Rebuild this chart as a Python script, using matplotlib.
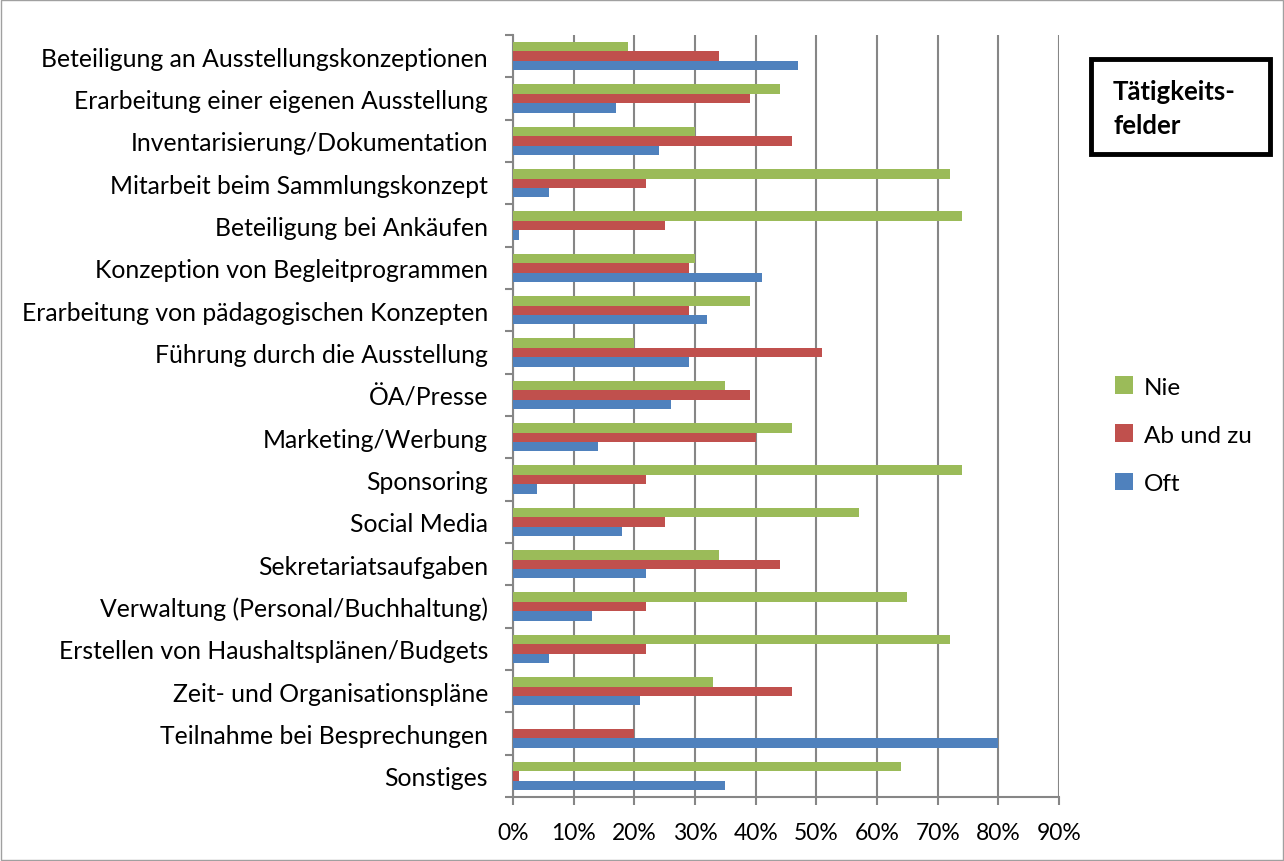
import numpy as np
import matplotlib.pyplot as plt
from matplotlib.patches import Rectangle

categories = [
    'Beteiligung an Ausstellungskonzeptionen',
    'Erarbeitung einer eigenen Ausstellung',
    'Inventarisierung/Dokumentation',
    'Mitarbeit beim Sammlungskonzept',
    'Beteiligung bei Ankäufen',
    'Konzeption von Begleitprogrammen',
    'Erarbeitung von pädagogischen Konzepten',
    'Führung durch die Ausstellung',
    'ÖA/Presse',
    'Marketing/Werbung',
    'Sponsoring',
    'Social Media',
    'Sekretariatsaufgaben',
    'Verwaltung (Personal/Buchhaltung)',
    'Erstellen von Haushaltsplänen/Budgets',
    'Zeit- und Organisationspläne',
    'Teilnahme bei Besprechungen',
    'Sonstiges',
]
nie = [19, 44, 30, 72, 74, 30, 39, 20, 35, 46, 74, 57, 34, 65, 72, 33, 0, 64]
ab_und_zu = [34, 39, 46, 22, 25, 29, 29, 51, 39, 40, 22, 25, 44, 22, 22, 46, 20, 1]
oft = [47, 17, 24, 6, 1, 41, 32, 29, 26, 14, 4, 18, 22, 13, 6, 21, 80, 35]
xticks = list(range(0, 100, 10))

plt.rcParams['font.family'] = ['Lato', 'DejaVu Sans']

fig = plt.figure(figsize=(12.84, 8.62), dpi=100)
ax = fig.add_axes([0.3995, 0.0742, 0.4253, 0.884])

#positions
y = np.arange(len(categories))
h = 0.222
grid_col = '#868686'

ax.barh(y - h, nie, height=h, color='#9BBB59', label='Nie', zorder=3)
ax.barh(y, ab_und_zu, height=h, color='#C0504D', label='Ab und zu', zorder=3)
ax.barh(y + h, oft, height=h, color='#4F81BD', label='Oft', zorder=3)

ax.set_ylim(len(categories) - 0.5, -0.5)
ax.set_xlim(0, 90)
ax.set_yticks(y)
ax.set_yticklabels(categories, fontsize=17.8)
ax.set_xticks(xticks)
ax.set_xticklabels([str(v) + '%' for v in xticks], fontsize=16.5)

#ticks between categories on y axis
ax.set_yticks(np.arange(-0.5, len(categories), 1), minor=True)
ax.tick_params(axis='y', which='major', length=0, pad=18)
ax.tick_params(axis='y', which='minor', length=6, color=grid_col, width=1.5)
ax.tick_params(axis='x', length=6, color=grid_col, width=1.5, pad=12)

ax.grid(axis='x', color=grid_col, linewidth=1.5, zorder=0)
for s in ['top', 'right']:
    ax.spines[s].set_visible(False)
for s in ['left', 'bottom']:
    ax.spines[s].set_color(grid_col)
    ax.spines[s].set_linewidth(1.5)

handles, labels = ax.get_legend_handles_labels()
fig.legend(handles, labels, loc='center left', bbox_to_anchor=(0.851, 0.494),
           frameon=False, fontsize=17.5, handlelength=0.75, handleheight=0.75,
           handletextpad=0.45, labelspacing=1.1)

#title box
fig.patches.append(Rectangle((1091 / 1284, 1 - 155 / 862), 179 / 1284, 95 / 862,
                             transform=fig.transFigure, fill=False,
                             edgecolor='black', linewidth=3.5))
fig.text(1113 / 1284, 1 - 109 / 862, 'Tätigkeits-\nfelder', fontsize=18.5,
         fontweight='bold', va='center', ha='left', linespacing=1.45)

#chart border
fig.patches.append(Rectangle((0.001, 0.001), 0.998, 0.998, transform=fig.transFigure,
                             fill=False, edgecolor='#A0A0A0', linewidth=1))

fig.savefig('out.png', dpi=100)
